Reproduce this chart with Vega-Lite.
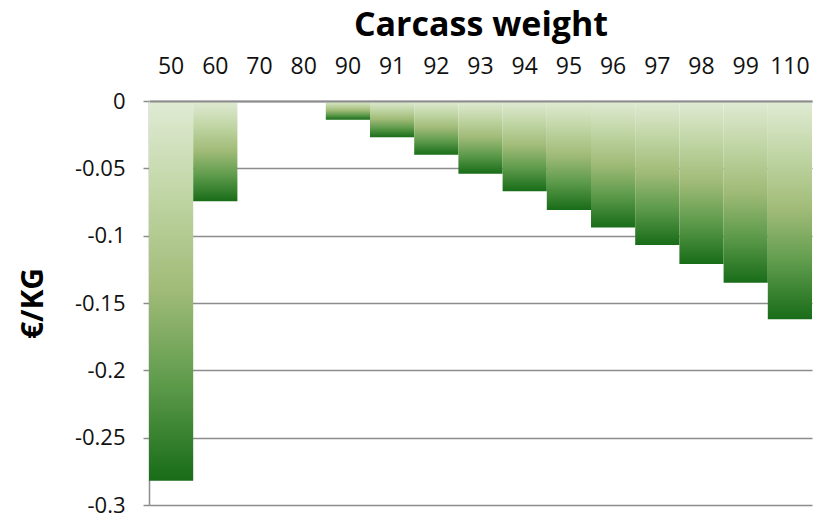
{
  "$schema": "https://vega.github.io/schema/vega-lite/v6.json",
  "width": 663,
  "height": 404,
  "autosize": {"type": "none"},
  "padding": {"left": 149, "top": 101, "right": 3, "bottom": 14},
  "background": "white",
  "config": {"view": {"stroke": null}, "font": "Open Sans"},
  "data": {
    "values": [
      {"weight": "50", "value": -0.282},
      {"weight": "60", "value": -0.0745},
      {"weight": "70", "value": 0},
      {"weight": "80", "value": 0},
      {"weight": "90", "value": -0.014},
      {"weight": "91", "value": -0.027},
      {"weight": "92", "value": -0.040},
      {"weight": "93", "value": -0.054},
      {"weight": "94", "value": -0.067},
      {"weight": "95", "value": -0.081},
      {"weight": "96", "value": -0.094},
      {"weight": "97", "value": -0.107},
      {"weight": "98", "value": -0.121},
      {"weight": "99", "value": -0.135},
      {"weight": "110", "value": -0.162}
    ]
  },
  "mark": {
    "type": "bar",
    "color": {
      "gradient": "linear",
      "x1": 0, "y1": 0, "x2": 0, "y2": 1,
      "stops": [
        {"offset": 0, "color": "#e0ebd4"},
        {"offset": 0.25, "color": "#c0d5a4"},
        {"offset": 0.5, "color": "#a0bb77"},
        {"offset": 0.75, "color": "#5c9a4a"},
        {"offset": 1, "color": "#186c18"}
      ]
    }
  },
  "encoding": {
    "x": {
      "field": "weight",
      "type": "ordinal",
      "sort": null,
      "scale": {"paddingInner": 0, "paddingOuter": 0},
      "axis": {
        "orient": "top",
        "zindex": 1,
        "title": "Carcass weight",
        "titleFontSize": 34,
        "titleFontWeight": "bold",
        "titleColor": "#000",
        "titleY": -76,
        "titleBaseline": "middle",
        "labelAngle": 0,
        "labelFontSize": 23,
        "labelColor": "#111",
        "labelBaseline": "middle",
        "labelPadding": 35,
        "ticks": false,
        "domainColor": "#8c8c8c",
        "domainWidth": 2
      }
    },
    "y": {
      "field": "value",
      "type": "quantitative",
      "scale": {"domain": [-0.3, 0], "nice": false, "zero": false},
      "axis": {
        "title": "€/KG",
        "titleFontSize": 30,
        "titleFontWeight": "bold",
        "titleColor": "#000",
        "titleX": -116,
        "titleY": 202,
        "titleAngle": 270,
        "titleAlign": "center",
        "titleBaseline": "middle",
        "values": [0, -0.05, -0.1, -0.15, -0.2, -0.25, -0.3],
        "labelExpr": "'' + datum.value",
        "labelFontSize": 22,
        "labelColor": "#111",
        "labelPadding": 18,
        "tickSize": 6,
        "tickColor": "#8c8c8c",
        "tickWidth": 1.5,
        "domainColor": "#8c8c8c",
        "domainWidth": 1.5,
        "grid": true,
        "gridColor": "#8c8c8c",
        "gridWidth": 1.5
      }
    }
  }
}
